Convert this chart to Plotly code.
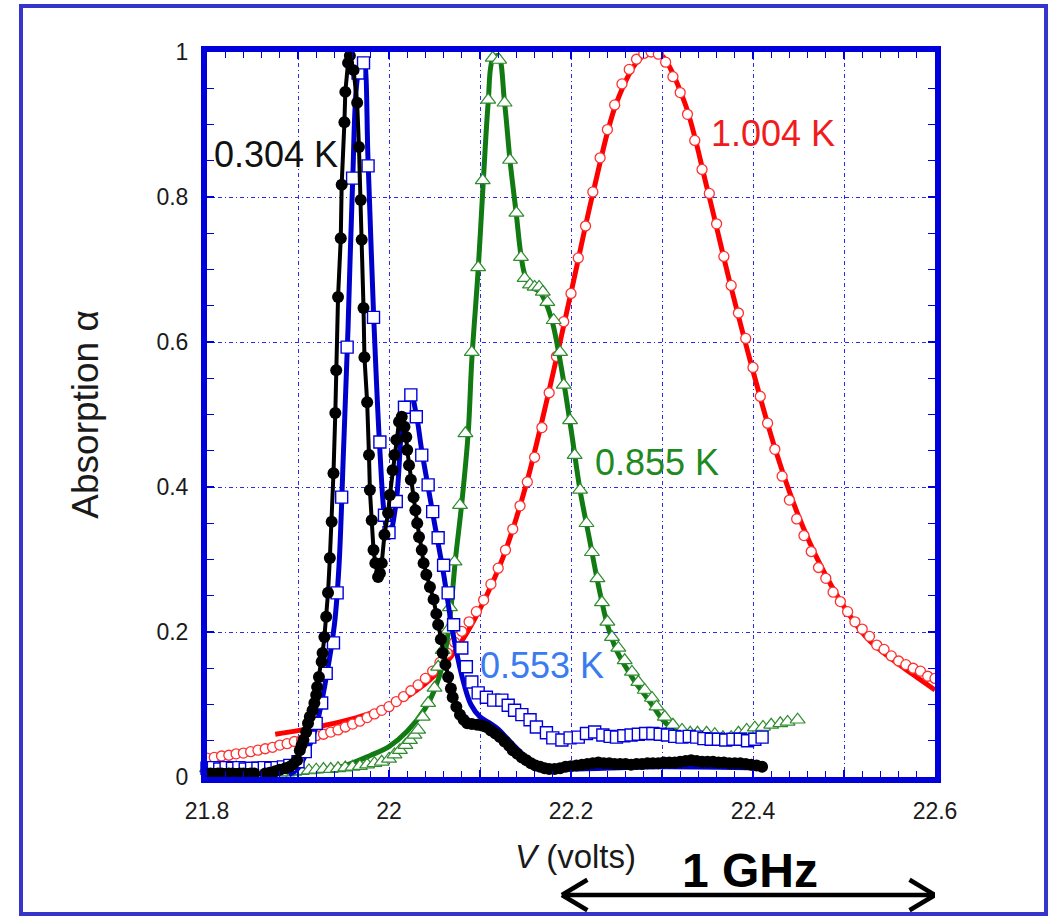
import plotly.graph_objects as go

# ---------------- data ----------------
# 1.004 K : open red circles + red fit line
red_v = [21.800, 21.808, 21.816, 21.824, 21.832, 21.840, 21.848, 21.856, 21.864, 21.872,
         21.880, 21.888, 21.896, 21.904, 21.912, 21.920, 21.928, 21.936, 21.944, 21.952,
         21.960, 21.968, 21.976, 21.984, 21.992, 22.000, 22.008, 22.016, 22.024, 22.032,
         22.040, 22.048, 22.056, 22.064, 22.072, 22.080, 22.088, 22.096, 22.104, 22.112,
         22.120, 22.128, 22.136, 22.144, 22.152, 22.160, 22.168, 22.176, 22.184, 22.192,
         22.200, 22.208, 22.216, 22.224, 22.232, 22.240, 22.248, 22.256, 22.264, 22.272,
         22.280, 22.288, 22.296, 22.304, 22.312, 22.320, 22.328, 22.336, 22.344, 22.352,
         22.360, 22.368, 22.376, 22.384, 22.392, 22.400, 22.408, 22.416, 22.424, 22.432,
         22.440, 22.448, 22.456, 22.464, 22.472, 22.480, 22.488, 22.496, 22.504, 22.512,
         22.520, 22.528, 22.536, 22.544, 22.552, 22.560, 22.568, 22.576, 22.584, 22.592,
         22.600]
red_a = [0.026, 0.027, 0.029, 0.030, 0.032, 0.033, 0.035, 0.037, 0.039, 0.041,
         0.044, 0.046, 0.049, 0.051, 0.054, 0.057, 0.059, 0.062, 0.065, 0.069,
         0.073, 0.077, 0.082, 0.087, 0.092, 0.097, 0.104, 0.111, 0.119, 0.127,
         0.136, 0.146, 0.158, 0.171, 0.186, 0.201, 0.214, 0.228, 0.244, 0.266,
         0.288, 0.313, 0.342, 0.374, 0.407, 0.441, 0.482, 0.530, 0.580, 0.628,
         0.667, 0.716, 0.760, 0.807, 0.854, 0.893, 0.927, 0.956, 0.976, 0.990,
         0.998, 1.000, 0.997, 0.986, 0.966, 0.944, 0.914, 0.878, 0.838, 0.805,
         0.763, 0.718, 0.678, 0.640, 0.605, 0.565, 0.525, 0.488, 0.452, 0.415,
         0.382, 0.356, 0.333, 0.311, 0.289, 0.274, 0.255, 0.242, 0.228, 0.214,
         0.204, 0.194, 0.182, 0.176, 0.167, 0.160, 0.155, 0.150, 0.146, 0.139,
         0.136]
red_fit_v = [21.875, 21.900, 21.925, 21.950, 21.975, 22.000, 22.025, 22.050, 22.075, 22.100,
             22.125, 22.150, 22.175, 22.200, 22.225, 22.250, 22.275, 22.290, 22.300, 22.325,
             22.350, 22.375, 22.400, 22.425, 22.450, 22.475, 22.500, 22.525, 22.550, 22.575,
             22.600]
red_fit_a = [0.059, 0.064, 0.070, 0.077, 0.086, 0.098, 0.115, 0.140, 0.178, 0.232,
             0.302, 0.400, 0.528, 0.668, 0.810, 0.930, 0.990, 1.000, 0.995, 0.930,
             0.810, 0.680, 0.560, 0.450, 0.360, 0.290, 0.235, 0.192, 0.165, 0.142,
             0.120]

# 0.855 K : open green triangles + green fit line
grn_v = [21.800, 21.808, 21.816, 21.824, 21.832, 21.840, 21.848, 21.856, 21.864, 21.872,
         21.880, 21.888, 21.896, 21.904, 21.912, 21.920, 21.928, 21.936, 21.944, 21.952,
         21.960, 21.968, 21.976, 21.984, 21.992, 22.000, 22.006, 22.012, 22.018, 22.023,
         22.028, 22.032, 22.037, 22.043, 22.050, 22.054, 22.059, 22.065, 22.067, 22.072,
         22.078, 22.084, 22.091, 22.098, 22.103, 22.109, 22.114, 22.121, 22.127, 22.133,
         22.140, 22.145, 22.149, 22.155, 22.160, 22.165, 22.169, 22.174, 22.181, 22.188,
         22.192, 22.199, 22.204, 22.210, 22.217, 22.223, 22.229, 22.234, 22.240, 22.245,
         22.252, 22.259, 22.267, 22.274, 22.281, 22.289, 22.294, 22.303, 22.312, 22.322,
         22.331, 22.339, 22.349, 22.358, 22.367, 22.376, 22.384, 22.393, 22.402, 22.411,
         22.420, 22.430, 22.438, 22.449]
grn_a = [0.012, 0.010, 0.012, 0.011, 0.013, 0.010, 0.008, 0.006, 0.004, 0.003,
         0.004, 0.006, 0.007, 0.008, 0.009, 0.010, 0.011, 0.011, 0.012, 0.013,
         0.014, 0.015, 0.017, 0.019, 0.021, 0.025, 0.031, 0.037, 0.044, 0.051,
         0.058, 0.065, 0.083, 0.102, 0.123, 0.152, 0.175, 0.203, 0.234, 0.297,
         0.375, 0.474, 0.586, 0.703, 0.823, 0.934, 0.992, 0.989, 0.930, 0.851,
         0.778, 0.717, 0.688, 0.679, 0.676, 0.676, 0.669, 0.655, 0.630, 0.586,
         0.541, 0.492, 0.444, 0.396, 0.350, 0.310, 0.274, 0.241, 0.214, 0.193,
         0.178, 0.161, 0.145, 0.131, 0.120, 0.109, 0.097, 0.083, 0.072, 0.065,
         0.061, 0.061, 0.061, 0.059, 0.055, 0.055, 0.061, 0.065, 0.068, 0.069,
         0.072, 0.074, 0.076, 0.079]
grn_fit_v = [21.920, 21.950, 21.980, 22.000, 22.020, 22.040, 22.050, 22.060, 22.067, 22.073,
             22.080, 22.087, 22.091, 22.098, 22.104, 22.109, 22.114, 22.120, 22.127, 22.133,
             22.140, 22.145, 22.150, 22.158, 22.165, 22.172, 22.180, 22.190, 22.200, 22.210,
             22.220, 22.230, 22.240, 22.250, 22.260, 22.270, 22.280, 22.290, 22.300, 22.310,
             22.320, 22.330, 22.350, 22.370]
grn_fit_a = [0.008, 0.015, 0.030, 0.042, 0.063, 0.095, 0.120, 0.160, 0.220, 0.300,
             0.378, 0.474, 0.575, 0.700, 0.830, 0.930, 0.990, 0.995, 0.930, 0.850,
             0.775, 0.720, 0.690, 0.675, 0.670, 0.655, 0.625, 0.560, 0.480, 0.395,
             0.330, 0.265, 0.210, 0.175, 0.152, 0.132, 0.115, 0.098, 0.080, 0.068,
             0.060, 0.057, 0.055, 0.053]

# 0.553 K : open blue squares + blue fit line
blu_v = [21.800, 21.807, 21.814, 21.821, 21.828, 21.835, 21.842, 21.849, 21.856, 21.863,
         21.870, 21.877, 21.884, 21.891, 21.900, 21.908, 21.913, 21.920, 21.926, 21.931,
         21.939, 21.943, 21.948, 21.954, 21.960, 21.966, 21.972, 21.977, 21.983, 21.990,
         21.995, 22.000, 22.008, 22.017, 22.024, 22.030, 22.036, 22.043, 22.048, 22.054,
         22.060, 22.065, 22.071, 22.080, 22.085, 22.091, 22.098, 22.107, 22.115, 22.124,
         22.131, 22.138, 22.146, 22.155, 22.162, 22.173, 22.180, 22.190, 22.199, 22.208,
         22.217, 22.226, 22.235, 22.243, 22.250, 22.258, 22.266, 22.274, 22.282, 22.290,
         22.298, 22.306, 22.314, 22.322, 22.330, 22.338, 22.346, 22.354, 22.362, 22.370,
         22.378, 22.386, 22.394, 22.402, 22.410]
blu_a = [0.012, 0.013, 0.011, 0.013, 0.012, 0.013, 0.011, 0.012, 0.012, 0.013,
         0.012, 0.013, 0.014, 0.016, 0.021, 0.035, 0.055, 0.074, 0.102, 0.143,
         0.185, 0.254, 0.386, 0.593, 0.826, 0.971, 0.985, 0.843, 0.634, 0.462,
         0.361, 0.337, 0.380, 0.510, 0.527, 0.497, 0.444, 0.403, 0.366, 0.330,
         0.292, 0.254, 0.210, 0.178, 0.152, 0.131, 0.116, 0.110, 0.106, 0.106,
         0.099, 0.092, 0.086, 0.079, 0.069, 0.061, 0.054, 0.051, 0.054, 0.055,
         0.060, 0.062, 0.058, 0.056, 0.055, 0.057, 0.058, 0.059, 0.060, 0.060,
         0.059, 0.058, 0.056, 0.055, 0.056, 0.055, 0.053, 0.052, 0.052, 0.051,
         0.052, 0.052, 0.050, 0.052, 0.055]
blu_fit_v = [21.890, 21.900, 21.910, 21.920, 21.930, 21.940, 21.945, 21.950, 21.955, 21.960,
             21.966, 21.972, 21.977, 21.983, 21.990, 21.995, 22.000, 22.008, 22.017, 22.024,
             22.030, 22.036, 22.043, 22.050, 22.060, 22.070, 22.080, 22.090, 22.100, 22.110,
             22.120, 22.130, 22.140, 22.150, 22.160, 22.170, 22.200, 22.300, 22.410]
blu_fit_a = [0.003, 0.012, 0.035, 0.070, 0.130, 0.210, 0.290, 0.450, 0.620, 0.820,
             0.970, 0.990, 0.850, 0.640, 0.450, 0.360, 0.330, 0.380, 0.510, 0.527,
             0.500, 0.450, 0.400, 0.350, 0.280, 0.200, 0.140, 0.100, 0.083, 0.075,
             0.066, 0.053, 0.040, 0.028, 0.018, 0.012, 0.011, 0.014, 0.012]

# 0.304 K : filled black circles joined by a black line
blk_v = [21.800, 21.804, 21.808, 21.812, 21.816, 21.820, 21.824, 21.828, 21.832, 21.836,
         21.840, 21.844, 21.848, 21.852, None,
         21.864, 21.869, 21.875, 21.880, 21.886, 21.891, 21.895, 21.899, 21.902, 21.904,
         21.906, 21.909, 21.911, 21.913, 21.916, 21.918, 21.920, 21.921, 21.923, 21.926,
         21.927, 21.929, 21.931, 21.933, 21.935, 21.937, 21.939, 21.941, 21.942, 21.944,
         21.947, 21.948, 21.951, 21.952, 21.955, 21.957, 21.961, 21.965, 21.967, 21.969,
         21.970, 21.972, 21.973, 21.976, 21.978, 21.979, 21.981, 21.983, 21.985, 21.988,
         21.990, 21.992, 21.995, 21.999, 22.001, 22.004, 22.006, 22.008, 22.011, 22.014,
         22.017, 22.019, 22.020, 22.022, 22.024, 22.027, 22.029, 22.031, 22.033, 22.036,
         22.038, 22.041, 22.045, 22.049, 22.052, 22.054, 22.057, 22.059, 22.062, 22.065,
         22.068, 22.070, 22.074, 22.078, 22.082, 22.086, 22.091, 22.097, 22.102, 22.107,
         22.112, 22.117, 22.122, 22.127, 22.132, 22.136, 22.141, 22.146, 22.151, 22.156,
         22.161, 22.166, 22.171, 22.176, 22.182, 22.188, 22.194, 22.200, 22.206, 22.212,
         22.218, 22.224, 22.230, 22.236, 22.242, 22.248, 22.254, 22.260, 22.266, 22.272,
         22.278, 22.284, 22.290, 22.296, 22.302, 22.308, 22.314, 22.320, 22.326, 22.332,
         22.338, 22.344, 22.350, 22.356, 22.362, 22.368, 22.374, 22.380, 22.386, 22.392,
         22.398, 22.404, 22.410]
blk_a = [0.005, 0.005, 0.004, 0.005, 0.005, 0.004, 0.005, 0.005, 0.004, 0.005,
         0.005, 0.004, 0.005, 0.005, None,
         0.005, 0.006, 0.008, 0.010, 0.012, 0.014, 0.018, 0.023, 0.037, 0.044,
         0.051, 0.062, 0.074, 0.083, 0.092, 0.102, 0.113, 0.124, 0.138, 0.159,
         0.171, 0.193, 0.221, 0.254, 0.302, 0.352, 0.419, 0.502, 0.561, 0.662,
         0.743, 0.817, 0.903, 0.945, 0.985, 0.995, 0.975, 0.930, 0.869, 0.796,
         0.741, 0.647, 0.579, 0.517, 0.444, 0.396, 0.354, 0.313, 0.295, 0.276,
         0.281, 0.295, 0.334, 0.364, 0.389, 0.423, 0.444, 0.465, 0.490, 0.497,
         0.483, 0.469, 0.451, 0.430, 0.410, 0.386, 0.368, 0.350, 0.331, 0.313,
         0.295, 0.279, 0.262, 0.245, 0.225, 0.210, 0.190, 0.171, 0.155, 0.138,
         0.122, 0.110, 0.097, 0.086, 0.079, 0.074, 0.073, 0.072, 0.071, 0.069,
         0.064, 0.060, 0.055, 0.049, 0.043, 0.037, 0.032, 0.027, 0.023, 0.019,
         0.016, 0.014, 0.012, 0.011, 0.011, 0.012, 0.014, 0.015, 0.016, 0.017,
         0.018, 0.019, 0.020, 0.019, 0.019, 0.018, 0.018, 0.018, 0.017, 0.018,
         0.018, 0.019, 0.019, 0.019, 0.020, 0.020, 0.020, 0.021, 0.022, 0.023,
         0.022, 0.021, 0.021, 0.021, 0.020, 0.020, 0.019, 0.019, 0.019, 0.018,
         0.017, 0.016, 0.014]

x_ticks = [21.8, 21.9, 22.0, 22.1, 22.2, 22.3, 22.4, 22.5, 22.6]
x_tick_text = ["21.8", "", "22", "", "22.2", "", "22.4", "", "22.6"]
y_ticks = [0, 0.2, 0.4, 0.6, 0.8, 1.0]
y_tick_text = ["0", "0.2", "0.4", "0.6", "0.8", "1"]

# ---------------- figure ----------------
FONT = "Liberation Sans, Arial, sans-serif"
fig = go.Figure()

fig.add_trace(go.Scatter(x=red_fit_v, y=red_fit_a, mode="lines", line=dict(color="#ff0000", width=5, shape="spline"),
                         hoverinfo="skip", cliponaxis=False))
fig.add_trace(go.Scatter(x=red_v, y=red_a, mode="markers", cliponaxis=False,
                         marker=dict(symbol="circle", size=10, color="white", line=dict(color="#ff3030", width=1.3))))

fig.add_trace(go.Scatter(x=grn_fit_v, y=grn_fit_a, mode="lines", line=dict(color="#127a12", width=5, shape="spline"),
                         hoverinfo="skip", cliponaxis=False))
fig.add_trace(go.Scatter(x=grn_v, y=grn_a, mode="markers", cliponaxis=False,
                         marker=dict(symbol="triangle-up", size=13, color="white", line=dict(color="#2e8b2e", width=1.2))))

fig.add_trace(go.Scatter(x=blu_fit_v, y=blu_fit_a, mode="lines", line=dict(color="#0000cc", width=5, shape="spline"),
                         hoverinfo="skip", cliponaxis=False))
fig.add_trace(go.Scatter(x=blu_v, y=blu_a, mode="markers", cliponaxis=False,
                         marker=dict(symbol="square", size=12, color="white", line=dict(color="#0000dd", width=1.4))))

fig.add_trace(go.Scatter(x=blk_v, y=blk_a, mode="lines+markers", cliponaxis=False, connectgaps=False,
                         line=dict(color="black", width=4),
                         marker=dict(symbol="circle", size=12, color="black")))

axis_common = dict(
    showline=True, mirror="ticks", linecolor="#0000dd", linewidth=6,
    ticks="inside", ticklen=7, tickwidth=1.5, tickcolor="#0000dd",
    showgrid=True, gridcolor="#2a2aee", gridwidth=1.2, griddash="4px,3px,1px,3px",
    zeroline=False,
    tickfont=dict(family=FONT, size=23, color="#1a1a1a"),
)
fig.update_xaxes(range=[21.8, 22.6], tickmode="array", tickvals=x_ticks, ticktext=x_tick_text,
                 minor=dict(dtick=0.02, ticks="inside", ticklen=6, tickwidth=1.2, tickcolor="#0000dd", showgrid=False),
                 ticklabelstandoff=8, **axis_common)
fig.update_yaxes(range=[0, 1], tickmode="array", tickvals=y_ticks, ticktext=y_tick_text,
                 minor=dict(dtick=0.05, ticks="inside", ticklen=7, tickwidth=1.2, tickcolor="#0000dd", showgrid=False),
                 ticklabelstandoff=8, **axis_common)

# temperature labels
labels = [
    ("0.304 K", 21.876, 0.858, "#111111"),
    ("1.004 K", 22.422, 0.888, "#f01c1c"),
    ("0.855 K", 22.2945, 0.434, "#1f8a1f"),
    ("0.553 K", 22.168, 0.154, "#3a7cf0"),
]
for txt, lx, ly, col in labels:
    fig.add_annotation(x=lx, y=ly, text=txt, showarrow=False, xref="x", yref="y",
                       xanchor="center", yanchor="middle",
                       font=dict(family=FONT, size=36, color=col))

# axis titles
fig.add_annotation(xref="paper", yref="paper", x=-0.1673, y=0.5, text="Absorption α", textangle=-90,
                   xanchor="center", yanchor="middle", showarrow=False,
                   font=dict(family=FONT, size=37, color="#1a1a1a"))
fig.add_annotation(xref="paper", yref="paper", x=0.5055, y=-0.1103, text="<i>V</i> (volts)",
                   xanchor="center", yanchor="middle", showarrow=False,
                   font=dict(family=FONT, size=33, color="#1a1a1a"))
fig.add_annotation(xref="paper", yref="paper", x=0.7459, y=-0.1283, text="<b>1 GHz</b>",
                   xanchor="center", yanchor="middle", showarrow=False,
                   font=dict(family=FONT, size=48, color="black"))

# double-headed arrow (1 GHz span)
ay = -0.1628
x_l, x_r = 22.19, 22.6
head_dx, head_dy = 0.028, 0.021
arrow_line = dict(color="black", width=4.5)
fig.add_shape(type="line", xref="x", yref="paper", x0=x_l, x1=x_r, y0=ay, y1=ay, line=arrow_line)
for x_tip, sgn in ((x_l, 1), (x_r, -1)):
    fig.add_shape(type="line", xref="x", yref="paper", x0=x_tip, y0=ay, x1=x_tip + sgn * head_dx, y1=ay + head_dy, line=arrow_line)
    fig.add_shape(type="line", xref="x", yref="paper", x0=x_tip, y0=ay, x1=x_tip + sgn * head_dx, y1=ay - head_dy, line=arrow_line)

# outer blue frame
fig.add_shape(type="rect", xref="paper", yref="paper", x0=-0.2555, x1=1.1525, y0=-0.1890, y1=1.0635,
              line=dict(color="#3535cc", width=4), fillcolor="rgba(0,0,0,0)", layer="below")

fig.update_layout(
    width=1051, height=920,
    margin=dict(l=207, r=116, t=52, b=143),
    paper_bgcolor="white", plot_bgcolor="white",
    showlegend=False,
)

fig.write_html("out.html", config={"displayModeBar": False},
               post_script="document.body.style.margin='0px';document.body.style.padding='0px';"
                           "document.body.style.overflow='hidden';")
